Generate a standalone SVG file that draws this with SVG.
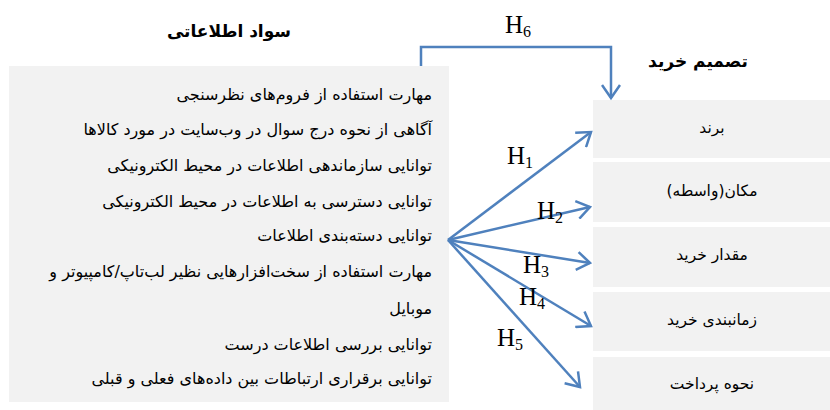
<svg xmlns="http://www.w3.org/2000/svg" width="830" height="410" viewBox="0 0 830 410">
<defs>
<style>
.box{fill:#F2F2F2;stroke:none}
.fa{font-family:"DejaVu Sans","Noto Sans",sans-serif;fill:#000;direction:rtl}
.item{font-size:16px;text-anchor:start}
.lbl{font-size:15.5px;text-anchor:middle}
.ttl{font-size:17px;font-weight:bold;text-anchor:middle}
.h{font-family:"Liberation Serif","Times New Roman",serif;font-size:25px;fill:#000}
.sub{font-size:16px}
.conn{fill:none;stroke:#4F81BD;stroke-width:2.5}
</style>
<marker id="arr" markerUnits="userSpaceOnUse" markerWidth="20" markerHeight="20" viewBox="-16 -10 20 20" refX="0" refY="0" orient="auto">
<path d="M-13,-9 L0,0 L-13,9" fill="none" stroke="#4F81BD" stroke-width="2.5" stroke-linejoin="miter"/>
</marker>
</defs>
<rect width="830" height="410" fill="#fff"/>

<g id="title-left"><text class="fa ttl" x="229" y="37">سواد اطلاعاتی</text></g>
<g id="title-right"><text class="fa ttl" x="698" y="67">تصمیم خرید</text></g>

<g id="info-literacy">
<rect class="box" x="9" y="66" width="440" height="336"/>
<text class="fa item" x="432" y="100">مهارت استفاده از فروم‌های نظرسنجی</text>
<text class="fa item" x="432" y="135">آگاهی از نحوه درج سوال در وب‌سایت در مورد کالاها</text>
<text class="fa item" x="432" y="171">توانایی سازماندهی اطلاعات در محیط الکترونیکی</text>
<text class="fa item" x="432" y="207">توانایی دسترسی به اطلاعات در محیط الکترونیکی</text>
<text class="fa item" x="432" y="241">توانایی دسته‌بندی اطلاعات</text>
<text class="fa item" x="432" y="277">مهارت استفاده از سخت‌افزارهایی نظیر لب‌تاپ/کامپیوتر و</text>
<text class="fa item" x="432" y="314">موبایل</text>
<text class="fa item" x="432" y="350">توانایی بررسی اطلاعات درست</text>
<text class="fa item" x="432" y="384">توانایی برقراری ارتباطات بین داده‌های فعلی و قبلی</text>
</g>

<g id="brand"><rect class="box" x="593" y="100" width="237" height="58"/><text class="fa lbl" x="712" y="133">برند</text></g>
<g id="place"><rect class="box" x="593" y="162" width="237" height="60"/><text class="fa lbl" x="712" y="196">مکان(واسطه)</text></g>
<g id="amount"><rect class="box" x="593" y="227" width="237" height="60"/><text class="fa lbl" x="712" y="260">مقدار خرید</text></g>
<g id="timing"><rect class="box" x="593" y="292" width="237" height="59"/><text class="fa lbl" x="712" y="325">زمانبندی خرید</text></g>
<g id="payment"><rect class="box" x="593" y="357" width="237" height="53"/><text class="fa lbl" x="712" y="389">نحوه پرداخت</text></g>

<g id="connectors">
<path class="conn" d="M421,66 V47 H611 V98" marker-end="url(#arr)"/>
<line class="conn" x1="448" y1="240" x2="591" y2="132" marker-end="url(#arr)"/>
<line class="conn" x1="448" y1="240" x2="590" y2="207" marker-end="url(#arr)"/>
<line class="conn" x1="448" y1="240" x2="590" y2="263" marker-end="url(#arr)"/>
<line class="conn" x1="448" y1="240" x2="591" y2="326" marker-end="url(#arr)"/>
<line class="conn" x1="448" y1="240" x2="580" y2="387" marker-end="url(#arr)"/>
</g>

<g id="labels">
<text class="h" x="505" y="33">H<tspan class="sub" dy="4">6</tspan></text>
<text class="h" x="507" y="164">H<tspan class="sub" dy="4">1</tspan></text>
<text class="h" x="537" y="219">H<tspan class="sub" dy="4">2</tspan></text>
<text class="h" x="523" y="273">H<tspan class="sub" dy="4">3</tspan></text>
<text class="h" x="519" y="305">H<tspan class="sub" dy="4">4</tspan></text>
<text class="h" x="497" y="346">H<tspan class="sub" dy="4">5</tspan></text>
</g>
</svg>
